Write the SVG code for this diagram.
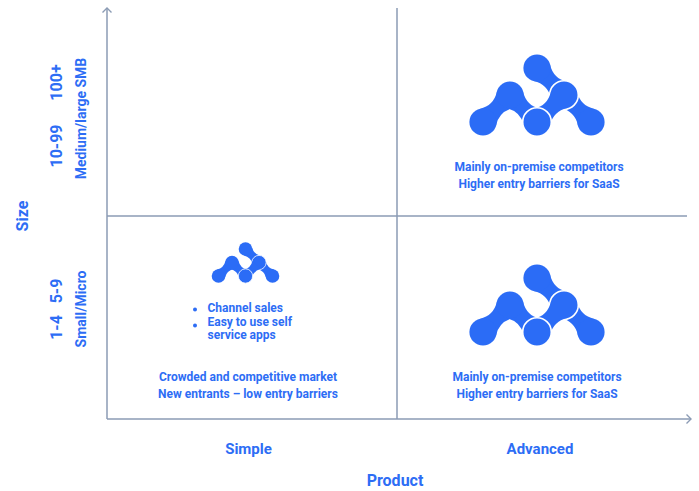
<svg xmlns="http://www.w3.org/2000/svg" xmlns:xlink="http://www.w3.org/1999/xlink" width="699" height="491" viewBox="0 0 699 491">
<style>
  .t { font-family: Roboto, "Liberation Sans", Arial, sans-serif; font-weight: 700; fill: #2d6df5; }
  .body { font-size: 12px; }
  .mid { text-anchor: middle; }
  .ax { stroke: #8b9bb4; stroke-width: 1.5; fill: none; }
  .logo { fill: #2b6cf6; }
  .cut { fill: #2b6cf6; stroke: #ffffff; stroke-width: 1.6; }
</style>
<defs>
  <marker id="chev" markerUnits="userSpaceOnUse" markerWidth="12" markerHeight="12" viewBox="-6 -6 12 12" refX="0" refY="0" orient="auto">
    <path d="M-4.5,-4.5 L0,0 L-4.5,4.5" fill="none" stroke="#8b9bb4" stroke-width="1.4"/>
  </marker>
  <path id="neck" d="M7,-11.5 Q19.09,-4 31.18,-11.5 L31.18,11.5 Q19.09,4 7,11.5 Z"/>
  <g id="logo" class="logo">
    <use href="#neck" transform="rotate(45)"/>
    <use href="#neck" transform="translate(27,27) rotate(45)"/>
    <use href="#neck" transform="translate(-54,54) rotate(-45)"/>
    <use href="#neck" transform="translate(-27,27) rotate(45)"/>
    <circle cx="0" cy="0" r="13.6"/>
    <circle cx="54" cy="54" r="13.6"/>
    <circle cx="-54" cy="54" r="13.6"/>
    <circle cx="-27" cy="27" r="13.6"/>
    <circle class="cut" cx="27" cy="27" r="14.3"/>
    <use href="#neck" transform="translate(27,27) rotate(135)"/>
    <circle class="cut" cx="0" cy="54" r="14.3"/>
  </g>
</defs>
<rect width="699" height="491" fill="#ffffff"/>

<g id="connectors">
  <line class="ax" x1="107" y1="419" x2="107" y2="8" marker-end="url(#chev)"/>
  <line class="ax" x1="107" y1="419" x2="691" y2="419" marker-end="url(#chev)"/>
  <line class="ax" x1="397" y1="8" x2="397" y2="419"/>
  <line class="ax" x1="107" y1="216" x2="687" y2="216"/>
</g>

<g id="axis-y-labels">
  <text class="t mid" font-size="16" transform="translate(28,216) rotate(-90)">Size</text>
  <text class="t mid" font-size="16" transform="translate(61.5,82.5) rotate(-90)">100+</text>
  <text class="t mid" font-size="16" transform="translate(61.5,146) rotate(-90)">10-99</text>
  <text class="t mid" font-size="14" transform="translate(85.5,118.5) rotate(-90)">Medium/large SMB</text>
  <text class="t mid" font-size="16" transform="translate(61.5,291) rotate(-90)">5-9</text>
  <text class="t mid" font-size="16" transform="translate(61.5,327.5) rotate(-90)">1-4</text>
  <text class="t mid" font-size="14" transform="translate(86,309) rotate(-90)">Small/Micro</text>
</g>

<g id="axis-x-labels">
  <text class="t mid" font-size="15" x="248.5" y="454">Simple</text>
  <text class="t mid" font-size="15" x="540" y="454">Advanced</text>
  <text class="t mid" font-size="16" x="395" y="486">Product</text>
</g>

<g id="q-top-right">
  <use href="#logo" x="537" y="68"/>
  <text class="t body mid" x="539" y="171">Mainly on-premise competitors</text>
  <text class="t body mid" x="539" y="188">Higher entry barriers for SaaS</text>
</g>

<g id="q-bottom-right">
  <use href="#logo" x="537" y="278"/>
  <text class="t body mid" x="537" y="381">Mainly on-premise competitors</text>
  <text class="t body mid" x="537" y="398">Higher entry barriers for SaaS</text>
</g>

<g id="q-bottom-left">
  <use href="#logo" transform="translate(245.5,249) scale(0.5)"/>
  <circle cx="195" cy="309.5" r="2" fill="#2d6df5"/>
  <circle cx="195" cy="325.5" r="2" fill="#2d6df5"/>
  <text class="t body" x="207.5" y="312">Channel sales</text>
  <text class="t body" x="207.5" y="325.5">Easy to use self</text>
  <text class="t body" x="207.5" y="339">service apps</text>
  <text class="t body mid" x="248" y="381">Crowded and competitive market</text>
  <text class="t body mid" x="248" y="398">New entrants – low entry barriers</text>
</g>
</svg>
